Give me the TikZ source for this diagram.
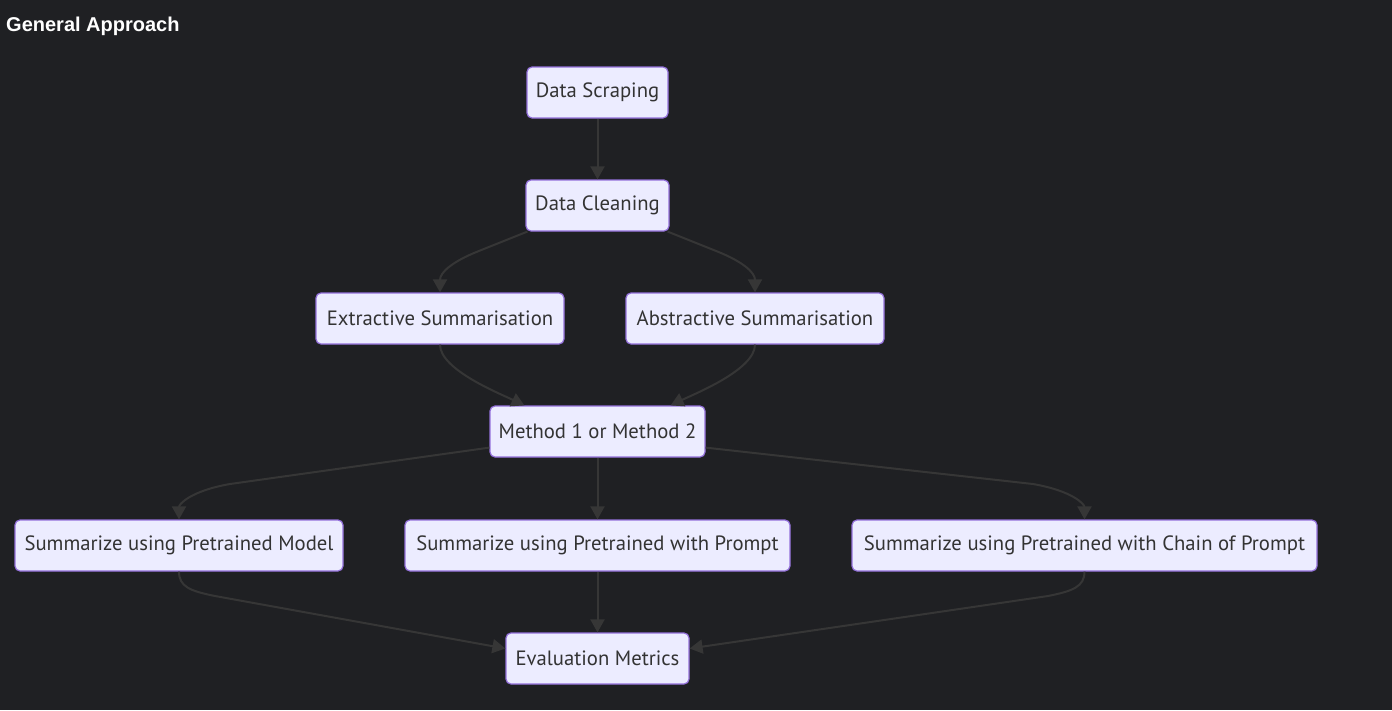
\documentclass[tikz,border=0pt]{standalone}
\usepackage{fontspec}
\setmainfont{PT Sans}
\newfontfamily\titlefont{Liberation Sans}
\usetikzlibrary{arrows.meta}
\definecolor{bg}{HTML}{1F2023}
\definecolor{nodefill}{HTML}{ECECFF}
\definecolor{nodeborder}{HTML}{9370DB}
\definecolor{nodetext}{HTML}{333333}
\definecolor{edgecol}{HTML}{363636}
\tikzset{
  box/.style={draw=nodeborder, fill=nodefill, line width=1.2pt, rounded corners=5pt,
    minimum height=51pt, inner sep=0pt, text=nodetext,
    font=\fontsize{20.7}{23}\selectfont},
  edge/.style={draw=edgecol, line width=2pt, -{Triangle[length=13pt,width=14pt]}}
}
\begin{document}
\begin{tikzpicture}[x=1pt,y=-1pt]
\fill[bg] (0,0) rectangle (1392,710);
\useasboundingbox (0,0) rectangle (1392,710);
\node[anchor=west, text=white, font=\titlefont\bfseries\fontsize{20}{22}\selectfont, inner sep=0pt] (title) at (6,26) {General Approach};

\node[box, minimum width=141pt] (ds) at (597.5,92.5) {Data Scraping};
\node[box, minimum width=143pt] (dc) at (597.5,205.5) {Data Cleaning};
\node[box, minimum width=248pt] (ext) at (440,318.5) {Extractive Summarisation};
\node[box, minimum width=258pt] (abs) at (755,318.5) {Abstractive Summarisation};
\node[box, minimum width=215pt] (m) at (597.5,431.5) {Method 1 or Method 2};
\node[box, minimum width=328pt] (pm) at (179,545.5) {Summarize using Pretrained Model};
\node[box, minimum width=385pt] (pp) at (597.5,545.5) {Summarize using Pretrained with Prompt};
\node[box, minimum width=465pt] (pc) at (1084.5,545.5) {Summarize using Pretrained with Chain of Prompt};
\node[box, minimum width=183pt] (ev) at (597.5,658.5) {Evaluation Metrics};

\draw[edge] (ds.south) -- (dc.north);
\draw[edge] ([xshift=2pt]dc.south west) -- ++(-50,20) .. controls +(-25,10) and +(0,-20) .. (ext.north);
\draw[edge] ([xshift=-2pt]dc.south east) -- ++(50,20) .. controls +(25,10) and +(0,-20) .. (abs.north);
\draw[edge] (ext.south) .. controls +(0,25) and +(-25,-12) .. ([xshift=35pt]m.north west);
\draw[edge] (abs.south) .. controls +(0,25) and +(25,-12) .. ([xshift=-35pt]m.north east);
\draw[edge] ([yshift=10pt]m.south west) -- (230,484) .. controls +(-40,7) and +(0,-15) .. (pm.north);
\draw[edge] ([yshift=10pt]m.south east) -- (1033,484) .. controls +(40,7) and +(0,-15) .. (pc.north);
\draw[edge] (m.south) -- (pp.north);
\draw[edge] (pm.south) .. controls +(0,15) and +(-25,-5) .. (215,596) -- ([yshift=10pt]ev.west);
\draw[edge] (pc.south) .. controls +(0,15) and +(25,-5) .. (1048,596) -- ([yshift=10pt]ev.east);
\draw[edge] (pp.south) -- (ev.north);
\end{tikzpicture}
\end{document}
